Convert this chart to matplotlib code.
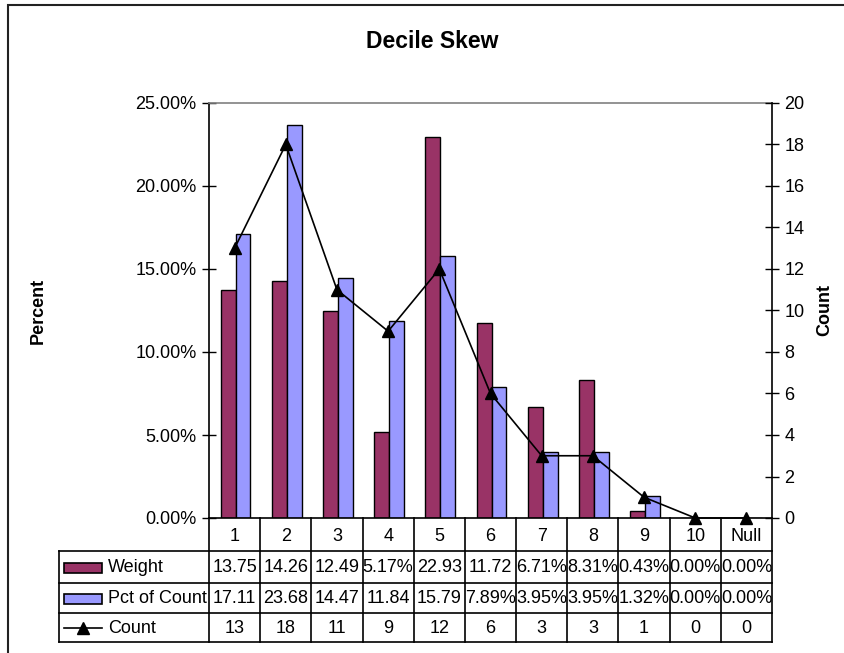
import matplotlib
matplotlib.use("Agg")
import matplotlib.pyplot as plt
from matplotlib.patches import Rectangle
import numpy as np

plt.rcParams['font.family'] = ['Liberation Sans', 'DejaVu Sans']

categories = ["1", "2", "3", "4", "5", "6", "7", "8", "9", "10", "Null"]
weight = [13.75, 14.26, 12.49, 5.17, 22.93, 11.72, 6.71, 8.31, 0.43, 0.00, 0.00]
pct_count = [17.11, 23.68, 14.47, 11.84, 15.79, 7.89, 3.95, 3.95, 1.32, 0.00, 0.00]
count = [13, 18, 11, 9, 12, 6, 3, 3, 1, 0, 0]
weight_text = ["13.75", "14.26", "12.49", "5.17%", "22.93", "11.72", "6.71%", "8.31%", "0.43%", "0.00%", "0.00%"]
pct_text = ["17.11", "23.68", "14.47", "11.84", "15.79", "7.89%", "3.95%", "3.95%", "1.32%", "0.00%", "0.00%"]
count_text = [str(c) for c in count]
series_names = ["Weight", "Pct of Count", "Count"]

W, H = 844, 653
fig = plt.figure(figsize=(W / 100, H / 100), dpi=100)

def fpos(x0, y0, x1, y1):
    return [x0 / W, 1 - y1 / H, (x1 - x0) / W, (y1 - y0) / H]

c_weight = "#993366"
c_pct = "#9999FF"
FS = 13

ax = fig.add_axes(fpos(209, 103, 772, 518))
x = np.arange(len(categories))
bw = 0.29
off = 0.02
ax.bar(x - bw / 2 + off, weight, width=bw, color=c_weight, edgecolor="black", linewidth=1, zorder=2)
ax.bar(x + bw / 2 + off, pct_count, width=bw, color=c_pct, edgecolor="black", linewidth=1, zorder=2)
ax.set_xlim(-0.5, len(categories) - 0.5)
ax.set_ylim(0, 25)
ax.set_yticks(np.arange(0, 25.1, 5))
ax.set_yticklabels([f"{v:.2f}%" for v in np.arange(0, 25.1, 5)])
ax.set_xticks([])
ax.tick_params(axis="y", direction="inout", length=10, width=1, labelsize=FS, pad=4)
for s in ["left", "bottom"]:
    ax.spines[s].set_color("black")
    ax.spines[s].set_linewidth(1.2)
ax.spines["top"].set_color("#808080")
ax.spines["top"].set_linewidth(1.2)
ax.spines["right"].set_visible(False)
ax.set_ylabel("Percent", fontsize=13, fontweight="bold")
ax.yaxis.set_label_coords(-(209 - 47) / 563, 0.5)

ax2 = ax.twinx()
ax2.plot(x, count, color="black", linewidth=1.2, marker="^", markersize=8, zorder=3, clip_on=False)
ax2.set_ylim(0, 20)
ax2.set_yticks(np.arange(0, 21, 2))
ax2.tick_params(axis="y", direction="inout", length=10, width=1, labelsize=FS, pad=4)
for s in ["left", "top", "bottom"]:
    ax2.spines[s].set_visible(False)
ax2.spines["right"].set_color("black")
ax2.spines["right"].set_linewidth(1.2)
ax2.set_ylabel("Count", fontsize=13, fontweight="bold")
ax2.yaxis.set_label_coords(1 + (816 - 772) / 563, 0.5)

fig.text(432 / W, 1 - 41 / H, "Decile Skew", ha="center", va="center", fontsize=16.5, fontweight="bold")

# data table
tx0, tx1 = 59, 772
ppu = (772 - 209) / len(categories)
xl0 = -0.5 - (209 - tx0) / ppu
tab = fig.add_axes(fpos(tx0, 518, tx1, 642))
tab.set_xlim(xl0, len(categories) - 0.5)
tab.set_ylim(642, 518)
tab.axis("off")
row_y = [518, 551, 583, 613, 642]
lw = 1.2
for i in range(len(categories) + 1):
    tab.plot([i - 0.5, i - 0.5], [row_y[0], row_y[-1]], color="black", lw=lw, clip_on=False)
for i, c in enumerate(categories):
    tab.text(i, (row_y[0] + row_y[1]) / 2 + 2, c, ha="center", va="center", fontsize=FS)
for yy in row_y[1:]:
    tab.plot([xl0, len(categories) - 0.5], [yy, yy], color="black", lw=lw, clip_on=False)
tab.plot([xl0, xl0], [row_y[1], row_y[-1]], color="black", lw=lw, clip_on=False)

rows = [weight_text, pct_text, count_text]
for r, vals in enumerate(rows):
    yc = (row_y[r + 1] + row_y[r + 2]) / 2 + 1
    for i, v in enumerate(vals):
        tab.text(i, yc, v, ha="center", va="center", fontsize=FS, clip_on=False)
    tab.text(xl0 + (108 - tx0) / ppu, yc, series_names[r], ha="left", va="center", fontsize=FS)

kx0 = xl0 + (64 - tx0) / ppu
kx1 = xl0 + (102 - tx0) / ppu
for r, col in enumerate([c_weight, c_pct]):
    yc = (row_y[r + 1] + row_y[r + 2]) / 2 + 1
    tab.add_patch(Rectangle((kx0, yc - 5), kx1 - kx0, 10, facecolor=col, edgecolor="black", lw=1.2))
yc = (row_y[3] + row_y[4]) / 2 + 1
tab.plot([kx0, kx1], [yc, yc], color="black", lw=1.2)
tab.plot([(kx0 + kx1) / 2], [yc], marker="^", color="black", markersize=8)

# outer chart border
fig.add_artist(Rectangle((8 / W, -0.05), 1.1, 1 - 5 / H + 0.05, transform=fig.transFigure,
                         fill=False, edgecolor="#222222", lw=1.5))

fig.savefig("out.png", dpi=100)
